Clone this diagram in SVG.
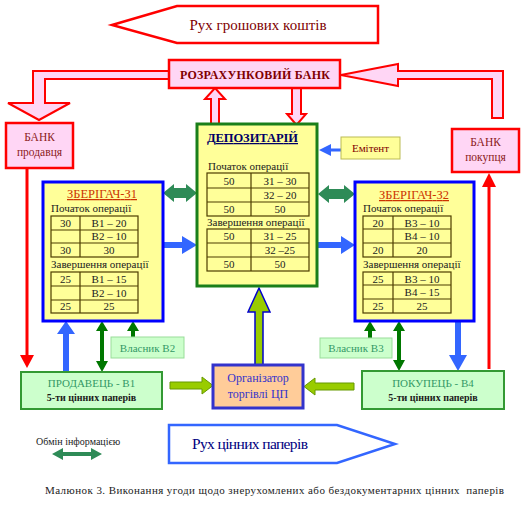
<svg xmlns="http://www.w3.org/2000/svg" width="523" height="506" viewBox="0 0 523 506" font-family="'Liberation Serif', 'DejaVu Serif', serif">
<style>
text{font-family:'Liberation Serif','DejaVu Serif',serif;}
.bank{fill:#ffd6f5;stroke:#ff0000;stroke-width:2.5;}
.pink{fill:#ffd6f5;stroke:#ff0000;stroke-width:2;stroke-linejoin:miter;}
.dred{fill:#800000;}
.yel{fill:#ffff99;}
.tbl{fill:none;stroke:#4d3d00;stroke-width:1.2;}
.t11{font-size:11px;fill:#222;}
.c{text-anchor:middle;}
.ztitle{font-size:12.5px;fill:#cc3300;text-decoration:underline;text-anchor:middle;}
.gbox{fill:#ccffcc;stroke:#339933;stroke-width:2;}
.vbox{fill:#ccffcc;stroke:#99dd99;stroke-width:1;}
.gtxt{fill:#339966;font-size:11px;text-anchor:middle;}
.blue{fill:#3366ff;}
.teal{fill:#2e8b57;}
.dg{fill:#007700;}
.red{fill:#ff0000;}
.yg{fill:#99cc00;stroke:#669900;stroke-width:1;}
</style>

<g id="money-flow">
<polygon points="112,25 177,6 378,6 378,43 177,43" fill="#ffffff" stroke="#ff0000" stroke-width="2.5"/>
<text x="258" y="30" class="c dred" font-size="15">Рух грошових коштів</text>
</g>

<g id="securities-flow">
<polygon points="169,425 337,425 395,444 337,463 169,463" fill="#ffffff" stroke="#3366ff" stroke-width="2.5"/>
<text x="192" y="449" font-size="15.5" fill="#000080" textLength="116">Рух цінних паперів</text>
</g>

<g id="connectors">
<polygon class="pink" points="169,71 33,71 33,103 8,103 39,120 70,103 45,103 45,79 169,79"/>
<polygon class="pink" points="341,75 398,64 398,71 503,71 503,118 492,118 492,79 398,79 398,86"/>
<polygon class="pink" points="211,124 211,99 205,99 215,88 225,99 219,99 219,124"/>
<polygon class="pink" points="292,88 292,114 287,114 296.5,125 306,114 301,114 301,88"/>
<rect x="25.5" y="168" width="3" height="188" class="red"/>
<polygon class="red" points="20,355 34,355 27,368"/>
<rect x="487.5" y="186" width="3" height="183" class="red"/>
<polygon class="red" points="482,187 496,187 489,173"/>
<polygon class="teal" points="163,193 174,184 174,188 186,188 186,184 197,193 186,202 186,198 174,198 174,202"/>
<polygon class="teal" points="318,194 329,185 329,189 344,189 344,185 355,194 344,203 344,199 329,199 329,203"/>
<polygon class="blue" points="163,242 182,242 182,236 197,245 182,254 182,248 163,248"/>
<polygon class="blue" points="318,242 341,242 341,236 355,245 341,254 341,248 318,248"/>
<polygon class="blue" points="341,148.5 331,148.5 331,144 319,150 331,156 331,151.5 341,151.5"/>
<polygon class="blue" points="63,372 63,334 57,334 66,321 75,334 69,334 69,372"/>
<polygon class="blue" points="455,321 455,355 449,355 458,371 467,355 461,355 461,321"/>
<polygon class="dg" points="102,321 108,331 104,331 104,361 108,361 102,372 96,361 100,361 100,331 96,331"/>
<polygon class="dg" points="133,321 139,331 135,331 135,337 131,337 131,331 127,331"/>
<polygon class="dg" points="399,321 405,331 401,331 401,360 405,360 399,371 393,360 397,360 397,331 393,331"/>
<polygon class="dg" points="370,321 376,331 372,331 372,338 368,338 368,331 364,331"/>
<polygon points="255,365 255,312 248,312 259,288 270,312 263,312 263,365" fill="#99cc00" stroke="#0000cc" stroke-width="1.5"/>
<polygon class="yg" points="170,382 202,382 202,377 213,385.5 202,394 202,389 170,389"/>
<polygon class="yg" points="354,383 315,383 315,378 304,386.5 315,395 315,390 354,390"/>
<polygon class="teal" points="52,454 63,448 63,452 91,452 91,448 102,454 91,460 91,456 63,456 63,460"/>
</g>

<g id="settlement-bank">
<rect x="169" y="60" width="171" height="28" class="bank"/>
<text x="255" y="78.5" class="c dred" font-size="12" font-weight="bold" textLength="150">РОЗРАХУНКОВИЙ БАНК</text>
</g>

<g id="seller-bank">
<rect x="6" y="123" width="67" height="45" class="bank"/>
<text x="39.5" y="141" class="c" font-size="11.5" fill="#8b1a1a">БАНК</text>
<text x="39.5" y="156" class="c" font-size="11.5" fill="#8b1a1a">продавця</text>
</g>

<g id="buyer-bank">
<rect x="452" y="129" width="67" height="43" class="bank"/>
<text x="485.5" y="146" class="c" font-size="11.5" fill="#8b1a1a">БАНК</text>
<text x="485.5" y="161" class="c" font-size="11.5" fill="#8b1a1a">покупця</text>
</g>

<g id="emitent">
<rect x="341" y="137" width="59" height="22" fill="#ffff99" stroke="#bbbb55" stroke-width="1"/>
<text x="370.5" y="152" class="c dred" font-size="11">Емітент</text>
</g>

<g id="depository">
<rect x="197" y="124" width="120" height="162" class="yel" stroke="#1a7f1a" stroke-width="3"/>
<text x="207" y="142" font-size="12.5" font-weight="bold" fill="#000066" text-decoration="underline" textLength="91">ДЕПОЗИТАРІЙ</text>
<text x="208" y="170" class="t11" font-size="11.5">Початок операції</text>
<rect x="207" y="173" width="102" height="43" class="tbl"/>
<path class="tbl" d="M207,188H309M207,202H309M251,173V216"/>
<text x="229" y="184.5" class="t11 c">50</text><text x="280" y="184.5" class="t11 c">З1 – 30</text>
<text x="280" y="199" class="t11 c">З2 – 20</text>
<text x="229" y="213" class="t11 c">50</text><text x="280" y="213" class="t11 c">50</text>
<text x="207" y="226" class="t11" font-size="11.5">Завершення операції</text>
<rect x="207" y="229" width="102" height="42" class="tbl"/>
<path class="tbl" d="M207,243H309M207,257H309M251,229V271"/>
<text x="229" y="240" class="t11 c">50</text><text x="280" y="240" class="t11 c">З1 – 25</text>
<text x="280" y="254" class="t11 c">З2 –25</text>
<text x="229" y="268" class="t11 c">50</text><text x="280" y="268" class="t11 c">50</text>
</g>

<g id="custodian-1">
<rect x="43" y="182" width="120" height="139" class="yel" stroke="#0000ff" stroke-width="3"/>
<text x="102" y="198" class="ztitle" textLength="70">ЗБЕРІГАЧ-З1</text>
<text x="51" y="212" class="t11" font-size="11.5">Початок операції</text>
<rect x="51" y="216" width="87" height="41" class="tbl"/>
<path class="tbl" d="M51,230H138M51,243H138M80,216V257"/>
<text x="65.5" y="227" class="t11 c">30</text><text x="109" y="227" class="t11 c">В1 – 20</text>
<text x="109" y="240" class="t11 c">В2 – 10</text>
<text x="65.5" y="254" class="t11 c">30</text><text x="109" y="254" class="t11 c">30</text>
<text x="51" y="268" class="t11" font-size="11.5">Завершення операції</text>
<rect x="51" y="272" width="87" height="41" class="tbl"/>
<path class="tbl" d="M51,286H138M51,300H138M80,272V313"/>
<text x="65.5" y="283" class="t11 c">25</text><text x="109" y="283" class="t11 c">В1 – 15</text>
<text x="109" y="297" class="t11 c">В2 – 10</text>
<text x="65.5" y="310" class="t11 c">25</text><text x="109" y="310" class="t11 c">25</text>
</g>

<g id="custodian-2">
<rect x="355" y="182" width="119" height="139" class="yel" stroke="#0000ff" stroke-width="3"/>
<text x="414" y="199" class="ztitle" textLength="70">ЗБЕРІГАЧ-З2</text>
<text x="363" y="212" class="t11" font-size="11.5">Початок операції</text>
<rect x="363" y="216" width="88" height="41" class="tbl"/>
<path class="tbl" d="M363,229H451M363,243H451M393,216V257"/>
<text x="378" y="226.5" class="t11 c">20</text><text x="422" y="226.5" class="t11 c">В3 – 10</text>
<text x="422" y="240" class="t11 c">В4 – 10</text>
<text x="378" y="254" class="t11 c">20</text><text x="422" y="254" class="t11 c">20</text>
<text x="363" y="268" class="t11" font-size="11.5">Завершення операції</text>
<rect x="363" y="272" width="88" height="41" class="tbl"/>
<path class="tbl" d="M363,285H451M363,299H451M393,272V313"/>
<text x="378" y="282.5" class="t11 c">25</text><text x="422" y="282.5" class="t11 c">В3 – 10</text>
<text x="422" y="296" class="t11 c">В4 – 15</text>
<text x="378" y="310" class="t11 c">25</text><text x="422" y="310" class="t11 c">25</text>
</g>

<g id="owner-b2">
<rect x="111" y="337" width="73" height="21" class="vbox"/>
<text x="147.5" y="351.5" class="gtxt">Власник В2</text>
</g>

<g id="owner-b3">
<rect x="320" y="338" width="72" height="20" class="vbox"/>
<text x="356" y="352" class="gtxt">Власник В3</text>
</g>

<g id="seller">
<rect x="21" y="372" width="141" height="37" class="gbox"/>
<text x="91.5" y="387" class="gtxt">ПРОДАВЕЦЬ - В1</text>
<text x="91.5" y="401" class="c" font-size="10" font-weight="bold" fill="#1a1a1a">5-ти цінних паперів</text>
</g>

<g id="buyer">
<rect x="362" y="371" width="142" height="38" class="gbox"/>
<text x="433" y="387" class="gtxt">ПОКУПЕЦЬ - В4</text>
<text x="433" y="401" class="c" font-size="10" font-weight="bold" fill="#1a1a1a">5-ти цінних паперів</text>
</g>

<g id="organizer">
<rect x="213" y="365" width="90" height="43" fill="#ffcc99" stroke="#3333cc" stroke-width="3"/>
<text x="258" y="382" class="c" font-size="12" fill="#3333cc">Організатор</text>
<text x="258" y="398" class="c" font-size="12" fill="#3333cc">торгівлі ЦП</text>
</g>

<g id="legend">
<text x="36" y="445" font-size="10" fill="#222">Обмін інформацією</text>
</g>

<g id="caption">
<text x="45" y="494" font-size="11" fill="#222" style="white-space:pre" textLength="459">Малюнок 3. Виконання угоди щодо знерухомлених або бездокументарних цінних  паперів</text>
</g>
</svg>
